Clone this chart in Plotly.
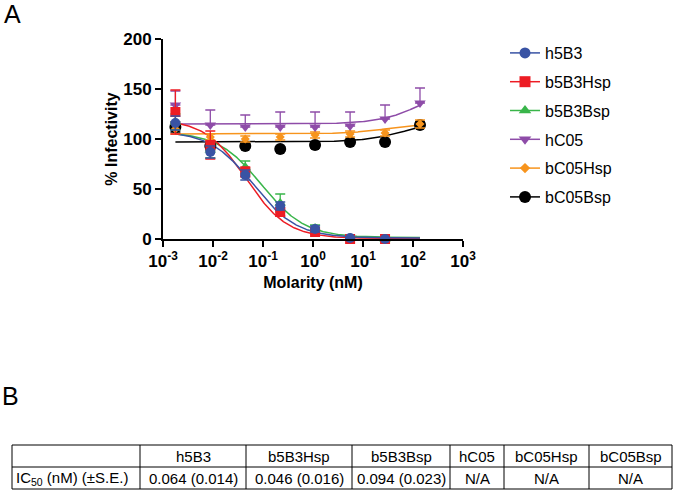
import numpy as np
import plotly.graph_objects as go

# ---------------- data ----------------
doses = [0.00177, 0.00883, 0.0442, 0.221, 1.10, 5.52, 27.6, 138.0]

series_names = ["h5B3", "b5B3Hsp", "b5B3Bsp", "hC05", "bC05Hsp", "bC05Bsp"]

h5B3_y = [116, 87, 64, 33, 10, 1, 0]
h5B3_err = [7, 6, 5, 4, 3, 1, 1]
b5B3Hsp_y = [127, 94, 67, 27, 7, 0, 0]
b5B3Hsp_err = [22, 14, 5, 4, 2, 1, 1]
b5B3Bsp_y = [117, 89, 72, 36, 11, 1, 0]
b5B3Bsp_err = [8, 8, 6, 9, 3, 1, 1]
hC05_y = [134, 114, 112, 112, 112, 113, 120, 136]
hC05_err = [14, 15, 12, 15, 15, 14, 14, 15]
bC05Hsp_y = [110, 102, 100, 102, 104, 105, 106, 115]
bC05Hsp_err = [5, 3, 3, 3, 3, 3, 3, 4]
bC05Bsp_y = [112, 93, 93, 90, 94, 97, 97, 114]
bC05Bsp_err = [5, 4, 2, 2, 3, 2, 2, 3]

# fitted 4-parameter logistic curves: (start, end, mid-point nM, hill)
fit_start = [108, 120, 107, 115, 105, 97]
fit_end = [1.0, 0.5, 1.5, 156, 116.3, 121]
fit_mid = [0.064, 0.046, 0.094, 163, 34.5, 83]
fit_hill = [1.0, 1.05, 1.0, 1.0, 1.0, 1.0]

# table
table_header = ["", "h5B3", "b5B3Hsp", "b5B3Bsp", "hC05", "bC05Hsp", "bC05Bsp"]
table_row = ["IC<sub>50</sub> (nM) (±S.E.)", "0.064 (0.014)", "0.046 (0.016)",
             "0.094 (0.023)", "N/A", "N/A", "N/A"]
table_colwidths = [128, 106, 106, 98, 54, 85, 83]

x_tickvals = [1e-3, 1e-2, 1e-1, 1e0, 1e1, 1e2, 1e3]
x_ticktext = ["10<sup>-3</sup>", "10<sup>-2</sup>", "10<sup>-1</sup>", "10<sup>0</sup>",
              "10<sup>1</sup>", "10<sup>2</sup>", "10<sup>3</sup>"]
y_tickvals = [0, 50, 100, 150, 200]

# ---------------- style ----------------
colors = ["#3953A4", "#ED1C24", "#39B54A", "#8E4CA8", "#F7941D", "#000000"]
symbols = ["circle", "square", "triangle-up", "triangle-down", "diamond", "circle"]
sizes = [10, 10, 10, 10, 7, 12]

ys = [h5B3_y, b5B3Hsp_y, b5B3Bsp_y, hC05_y, bC05Hsp_y, bC05Bsp_y]
errs = [h5B3_err, b5B3Hsp_err, b5B3Bsp_err, hC05_err, bC05Hsp_err, bC05Bsp_err]
upward_only = [False, False, False, True, False, False]

W, H = 677, 492
FONT = "Liberation Sans, Arial, sans-serif"
def px(x):
    return x / W
def py(y):
    return (H - y) / H

fig = go.Figure()

xs_fit = np.logspace(np.log10(doses[0]), np.log10(doses[-1]), 300)

# draw in reverse order (first data set on top)
for i in reversed(range(6)):
    c = colors[i]
    yfit = fit_end[i] + (fit_start[i] - fit_end[i]) / (1 + (xs_fit / fit_mid[i]) ** fit_hill[i])
    fig.add_trace(go.Scatter(x=xs_fit, y=yfit, mode="lines",
                             line=dict(color=c, width=1.5), showlegend=False,
                             hoverinfo="skip"))
for i in reversed(range(6)):
    c = colors[i]
    n = len(ys[i])
    err = dict(type="data", array=errs[i], color=c, thickness=1.3, width=5, visible=True)
    if upward_only[i]:
        err["symmetric"] = False
        err["arrayminus"] = [0] * n
    fig.add_trace(go.Scatter(x=doses[:n], y=ys[i], mode="markers",
                             marker=dict(color=c, symbol=symbols[i], size=sizes[i],
                                         line=dict(width=0)),
                             error_y=err, showlegend=False, cliponaxis=False))

# legend entries
for i in range(6):
    fig.add_trace(go.Scatter(x=[None], y=[None], mode="lines+markers", name=series_names[i],
                             line=dict(color=colors[i], width=1.5),
                             marker=dict(color=colors[i], symbol=symbols[i],
                                         size=min(sizes[i] + 1, 12)),
                             legendgroup=series_names[i], showlegend=True))

# ---------------- table (lines + text) ----------------
tab_left, tab_top, tab_mid, tab_bot = 12, 445, 467, 489
edges = [tab_left]
for w in table_colwidths:
    edges.append(edges[-1] + w)

shapes = []
line_style = dict(color="black", width=1)
for yy in (tab_top, tab_mid, tab_bot):
    shapes.append(dict(type="line", xref="paper", yref="paper",
                       x0=px(edges[0]), x1=px(edges[-1]), y0=py(yy), y1=py(yy),
                       line=line_style))
for xx in edges:
    shapes.append(dict(type="line", xref="paper", yref="paper",
                       x0=px(xx), x1=px(xx), y0=py(tab_top), y1=py(tab_bot),
                       line=line_style))

annotations = []
tab_font = dict(family=FONT, size=15, color="black")
for j in range(7):
    cx = (edges[j] + edges[j + 1]) / 2
    if table_header[j]:
        annotations.append(dict(text=table_header[j], x=px(cx), y=py((tab_top + tab_mid) / 2),
                                xref="paper", yref="paper", xanchor="center",
                                yanchor="middle", showarrow=False, font=tab_font))
    if j == 0:
        annotations.append(dict(text=table_row[j], x=px(edges[0] + 2),
                                y=py((tab_mid + tab_bot) / 2),
                                xref="paper", yref="paper", xanchor="left",
                                yanchor="middle", showarrow=False, font=tab_font))
    else:
        annotations.append(dict(text=table_row[j], x=px(cx), y=py((tab_mid + tab_bot) / 2),
                                xref="paper", yref="paper", xanchor="center",
                                yanchor="middle", showarrow=False, font=tab_font))

annotations.append(dict(text="A", x=px(12), y=py(14), xref="paper", yref="paper",
                        xanchor="center", yanchor="middle", showarrow=False,
                        font=dict(family=FONT, size=25, color="black")))
annotations.append(dict(text="B", x=px(10), y=py(396), xref="paper", yref="paper",
                        xanchor="center", yanchor="middle", showarrow=False,
                        font=dict(family=FONT, size=25, color="black")))

tick_font = dict(family=FONT, size=17, color="black", weight="bold")
title_font = dict(family=FONT, size=16, color="black", weight="bold")

fig.update_layout(
    width=W, height=H,
    margin=dict(l=0, r=0, t=0, b=0, autoexpand=False),
    paper_bgcolor="white", plot_bgcolor="white",
    font=dict(family=FONT, color="black"),
    xaxis=dict(type="log", range=[-3, 3], domain=[px(163), px(463)],
               showline=True, linecolor="black", linewidth=2,
               ticks="outside", ticklen=6, tickwidth=2, tickcolor="black",
               tickvals=x_tickvals, ticktext=x_ticktext, tickfont=tick_font,
               showgrid=False, zeroline=False, anchor="y", automargin=False,
               title=dict(text="Molarity (nM)", font=title_font, standoff=6)),
    yaxis=dict(range=[0, 200], domain=[py(239), py(39)],
               showline=True, linecolor="black", linewidth=2,
               ticks="outside", ticklen=6, tickwidth=2, tickcolor="black",
               tickvals=y_tickvals, tickfont=tick_font,
               showgrid=False, zeroline=False, anchor="x", automargin=False,
               title=dict(text="% Infectivity", font=title_font, standoff=2)),
    legend=dict(x=px(505), y=py(36), xanchor="left", yanchor="top",
                font=dict(family=FONT, size=16, color="black"),
                tracegroupgap=5, bgcolor="rgba(0,0,0,0)"),
    showlegend=True,
    shapes=shapes,
    annotations=annotations,
)

fig.write_html("out.html")
